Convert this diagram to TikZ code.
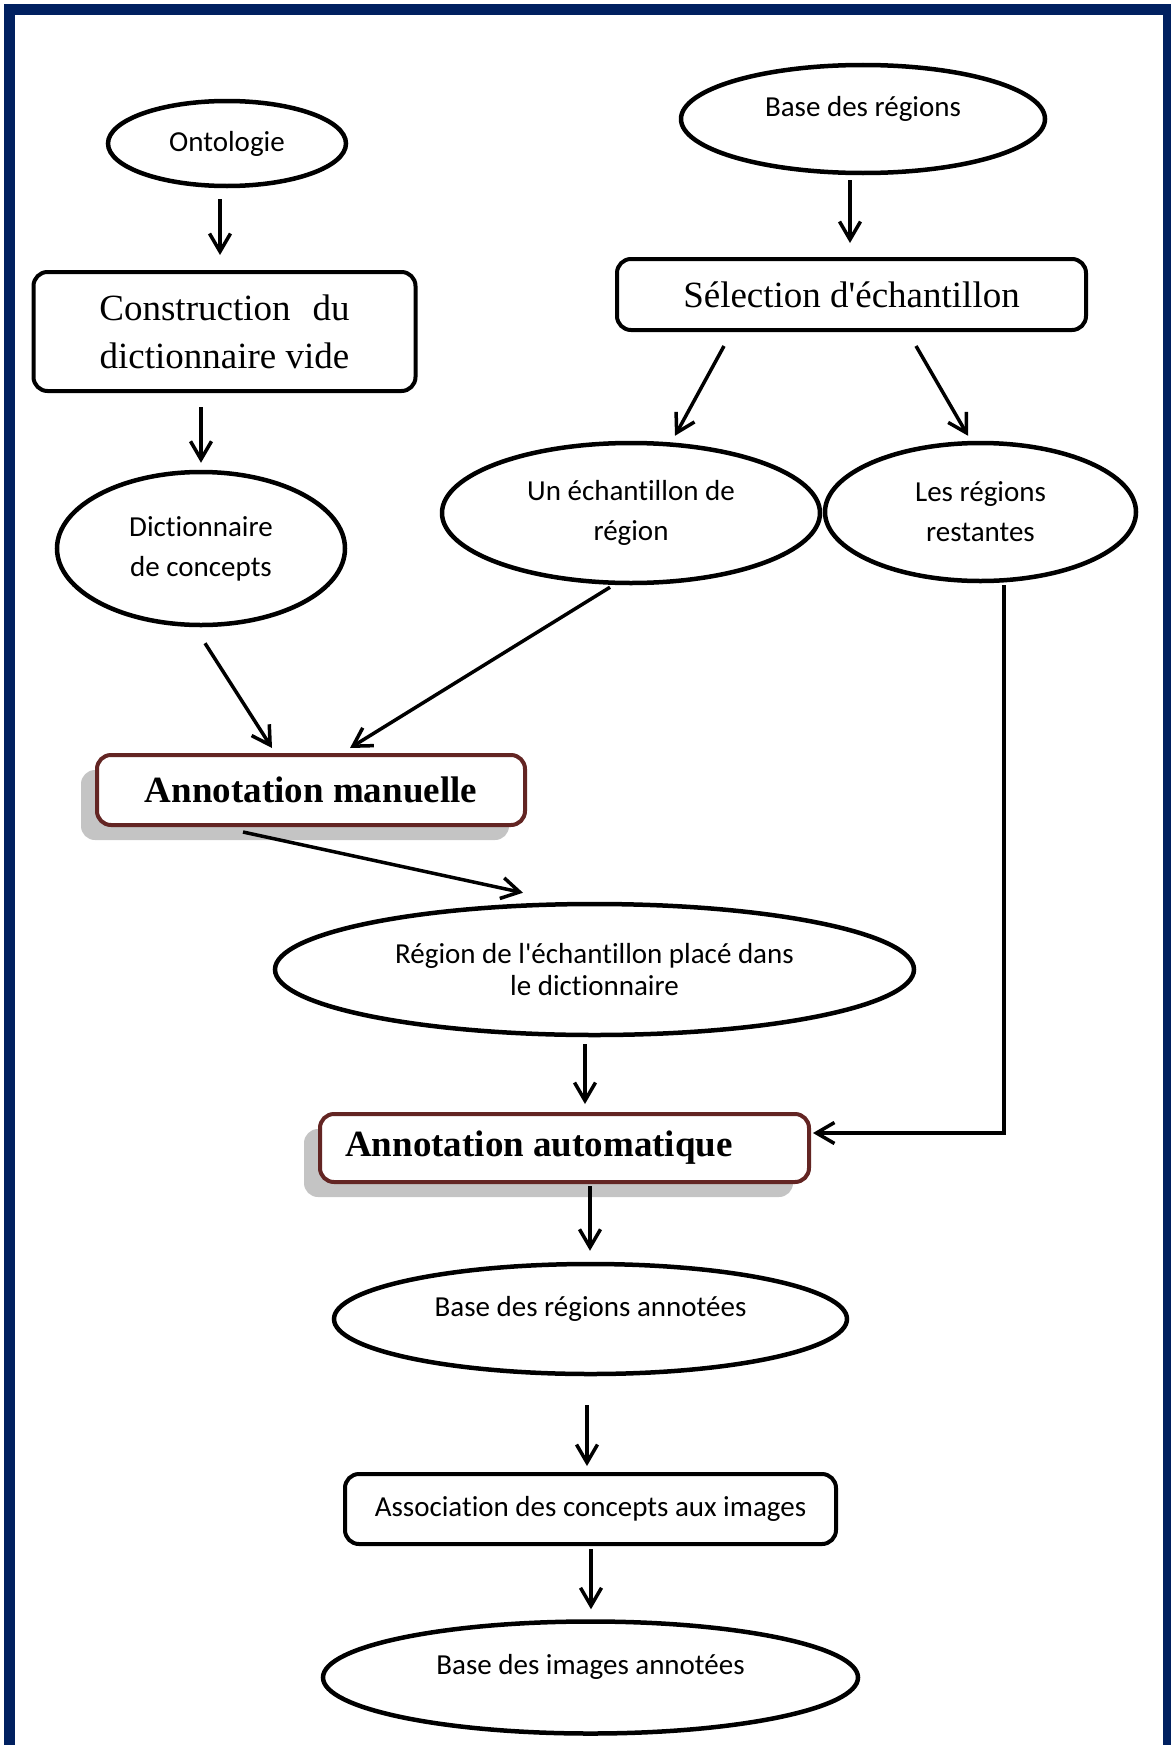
\documentclass[tikz,border=0pt]{standalone}
\usepackage{fontspec}
\setmainfont{Liberation Serif}
\newfontfamily\calib[RawFeature={-liga;-clig;-calt}]{Carlito}
\usetikzlibrary{shapes.geometric, arrows.meta, shadows, calc}
\definecolor{cadrebleu}{RGB}{0,32,96}
\definecolor{brun}{RGB}{99,37,35}
\newcommand\petit{\calib\fontsize{29}{40}\selectfont}
\newcommand\grand{\fontsize{37}{48}\selectfont}

\begin{document}
\begin{tikzpicture}[x=1pt, y=-1pt,
  ovale/.style={ellipse, draw, line width=4.5pt, inner sep=0pt, align=center, font=\petit},
  boite/.style={rectangle, rounded corners=14pt, draw, line width=4pt, inner sep=0pt, align=center},
  annot/.style={boite, draw=brun, fill=white, font=\bfseries\grand,
    drop shadow={shadow xshift=-16pt, shadow yshift=-15pt, opacity=1, fill=black!23}},
  fleche/.style={-{Straight Barb[length=18pt, width=21pt]}, line width=3.5pt},
  haut/.style={text height=20pt, text depth=26pt}]
\useasboundingbox (0,0) rectangle (1170,1745);
\draw[cadrebleu, line width=11pt] (9.5,10) rectangle (1168.5,1760);

\node[ovale, minimum width=238pt, minimum height=85pt] (onto) at (227,143.5) {Ontologie};
\node[boite, minimum width=382pt, minimum height=119pt, font=\grand] (constr) at (224.5,331.5) {Construction\hspace{22pt}du\\dictionnaire vide};
\node[ovale, minimum width=288pt, minimum height=153pt] (dict) at (201,548.5) {Dictionnaire\\de concepts};
\node[ovale, haut, minimum width=364pt, minimum height=108pt] (basereg) at (863,119) {Base des régions};
\node[boite, minimum width=469pt, minimum height=71pt, font=\grand] (select) at (851.5,294.5) {Sélection d\textquotesingle échantillon};
\node[ovale, minimum width=378pt, minimum height=140pt] (echant) at (631,513) {Un échantillon de\\région};
\node[ovale, minimum width=311pt, minimum height=138pt] (restant) at (980.5,512) {Les régions\\restantes};
\node[annot, minimum width=428pt, minimum height=70pt] (manuel) at (311,790) {Annotation manuelle};
\node[ovale, minimum width=639pt, minimum height=131pt, font=\calib\fontsize{29}{32}\selectfont] (regech) at (594.5,969.5) {Région de l'échantillon placé dans\\le dictionnaire};
\node[annot, minimum width=489pt, minimum height=68pt] (autom) at (564.5,1148) {Annotation automatique\hspace*{51pt}};
\node[ovale, haut, minimum width=513pt, minimum height=110pt] (basean) at (590.5,1319) {Base des régions annotées};
\node[boite, minimum width=491pt, minimum height=70pt, font=\petit] (assoc) at (590.5,1509) {Association des concepts aux images};
\node[ovale, haut, minimum width=535pt, minimum height=112pt] (baseim) at (590.5,1677.5) {Base des images annotées};

\draw[fleche] ($(onto.south)+(-7,11)$) -- ($(constr.north)+(-4.5,-15)$);
\draw[fleche] ($(constr.south)+(-23.5,14)$) -- ($(dict.north)+(0,-7)$);
\draw[fleche] ($(dict.south)+(4,16)$) -- ($(manuel.north)+(-39,-5)$);
\draw[fleche] ($(basereg.south)+(-13,5)$) -- ($(select.north)+(-1.5,-14)$);
\draw[fleche] ($(select.south)+(-127.5,14)$) -- ($(echant.north)+(44,-5)$);
\draw[fleche] ($(select.south)+(64.5,14)$) -- ($(restant.north)+(-12.5,-5)$);
\draw[fleche] ($(echant.south)+(-21,2)$) -- ($(manuel.north)+(39,-5)$);
\draw[fleche] ($(manuel.south)+(-68,5)$) -- ($(regech.north)+(-71.5,-9)$);
\draw[fleche] ($(regech.south)+(-9.5,7)$) -- ($(autom.north)+(20.5,-8)$);
\draw[fleche] ($(restant.south)+(23.5,2)$) |- ($(autom.east)+(2,-15)$);
\draw[fleche] ($(autom.south)+(25.5,2)$) -- ($(basean.north)+(-0.5,-11)$);
\draw[fleche] ($(basean.south)+(-3.5,29)$) -- ($(assoc.north)+(-3.5,-6)$);
\draw[fleche] ($(assoc.south)+(0.5,3)$) -- ($(baseim.north)+(0.5,-10)$);
\end{tikzpicture}
\end{document}
